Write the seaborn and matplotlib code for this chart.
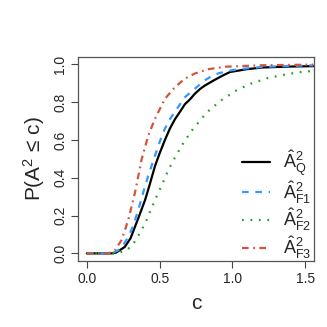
import numpy as np
import pandas as pd
import matplotlib
matplotlib.use("Agg")
import matplotlib.pyplot as plt
import seaborn as sns

# Values (c, P(A^2 <= c))
c_Q = [0, 0.17, 0.2, 0.26, 0.3, 0.33, 0.36, 0.4, 0.43, 0.467, 0.5, 0.536, 0.57,
       0.605, 0.64, 0.674, 0.708, 0.742, 0.777, 0.81, 0.87, 0.93, 0.983, 1.1,
       1.21, 1.4, 1.556]
p_Q = [0, 0, 0.004, 0.034, 0.08, 0.14, 0.2, 0.283, 0.36, 0.46, 0.53, 0.6, 0.66,
       0.71, 0.75, 0.79, 0.815, 0.845, 0.87, 0.888, 0.915, 0.94, 0.96, 0.975,
       0.984, 0.989, 0.991]

c_F1 = [0, 0.17, 0.215, 0.25, 0.284, 0.32, 0.353, 0.39, 0.421, 0.467, 0.5, 0.536,
        0.57, 0.605, 0.674, 0.742, 0.81, 0.868, 0.914, 1.0, 1.098, 1.2, 1.33, 1.556]
p_F1 = [0, 0, 0.016, 0.045, 0.087, 0.15, 0.23, 0.33, 0.41, 0.515, 0.59, 0.66,
        0.71, 0.75, 0.827, 0.872, 0.916, 0.943, 0.955, 0.97, 0.979, 0.986, 0.991, 0.995]

c_F2 = [0, 0.2, 0.273, 0.318, 0.353, 0.403, 0.444, 0.49, 0.513, 0.559, 0.61, 0.669,
        0.733, 0.806, 0.845, 0.933, 1.029, 1.125, 1.239, 1.35, 1.459, 1.556]
p_F2 = [0, 0, 0.016, 0.05, 0.093, 0.162, 0.24, 0.32, 0.358, 0.44, 0.515, 0.592,
        0.663, 0.729, 0.761, 0.816, 0.863, 0.898, 0.927, 0.945, 0.959, 0.966]

c_F3 = [0, 0.15, 0.192, 0.238, 0.284, 0.33, 0.376, 0.421, 0.467, 0.536, 0.605,
        0.674, 0.742, 0.834, 0.95, 1.21, 1.556]
p_F3 = [0, 0, 0.016, 0.07, 0.176, 0.32, 0.497, 0.622, 0.711, 0.818, 0.88,
        0.925, 0.952, 0.975, 0.988, 0.996, 0.999]

labels = [r"$\hat{\mathrm{A}}^{2}_{\mathrm{Q}}$", r"$\hat{\mathrm{A}}^{2}_{\mathrm{F1}}$",
          r"$\hat{\mathrm{A}}^{2}_{\mathrm{F2}}$", r"$\hat{\mathrm{A}}^{2}_{\mathrm{F3}}$"]
series = [(c_Q, p_Q), (c_F1, p_F1), (c_F2, p_F2), (c_F3, p_F3)]
colors = ["black", "#3399FF", "#22A022", "#D4553F"]
dash_styles = [None, (3, 3), (0.8, 3), (3, 2, 0.8, 2)]

sns.set_style("ticks")
plt.rcParams["font.family"] = ["Liberation Sans", "DejaVu Sans"]
plt.rcParams["mathtext.fontset"] = "custom"
plt.rcParams["mathtext.rm"] = "Liberation Sans"
plt.rcParams["mathtext.it"] = "Liberation Sans"

fig = plt.figure(figsize=(3.27, 3.27), dpi=100)
ax = fig.add_axes([0.239, 0.202, 0.721, 0.624])

for (cs, ps), lab, col, ds in zip(series, labels, colors, dash_styles):
    sns.lineplot(x=cs, y=ps, color=col, lw=1.6, label=lab, ax=ax)
    if ds is not None:
        ax.lines[-1].set_dashes(ds)

ax.set_xlim(-0.06, 1.56)
ax.set_ylim(-0.04, 1.04)
ax.set_xticks([0.0, 0.5, 1.0, 1.5])
ax.set_xticklabels(["0.0", "0.5", "1.0", "1.5"])
ax.set_yticks([0.0, 0.2, 0.4, 0.6, 0.8, 1.0])
ax.set_yticklabels(["0.0", "0.2", "0.4", "0.6", "0.8", "1.0"], rotation=90, va="center")
ax.tick_params(labelsize=10, length=5, width=0.8, color="#444444", pad=3)
for s in ax.spines.values():
    s.set_visible(True)
    s.set_linewidth(0.9)
    s.set_color("#555555")

ax.set_xlabel("c", fontsize=15, labelpad=6)
ax.set_ylabel("P(A$^2$ \u2264 c)", fontsize=15, labelpad=4)

leg = ax.legend(loc="lower right", bbox_to_anchor=(1.02, -0.035), frameon=False,
                fontsize=13, handlelength=1.6, labelspacing=0.05,
                handletextpad=0.7, borderaxespad=0.0)

fig.savefig("out.png", dpi=100)
